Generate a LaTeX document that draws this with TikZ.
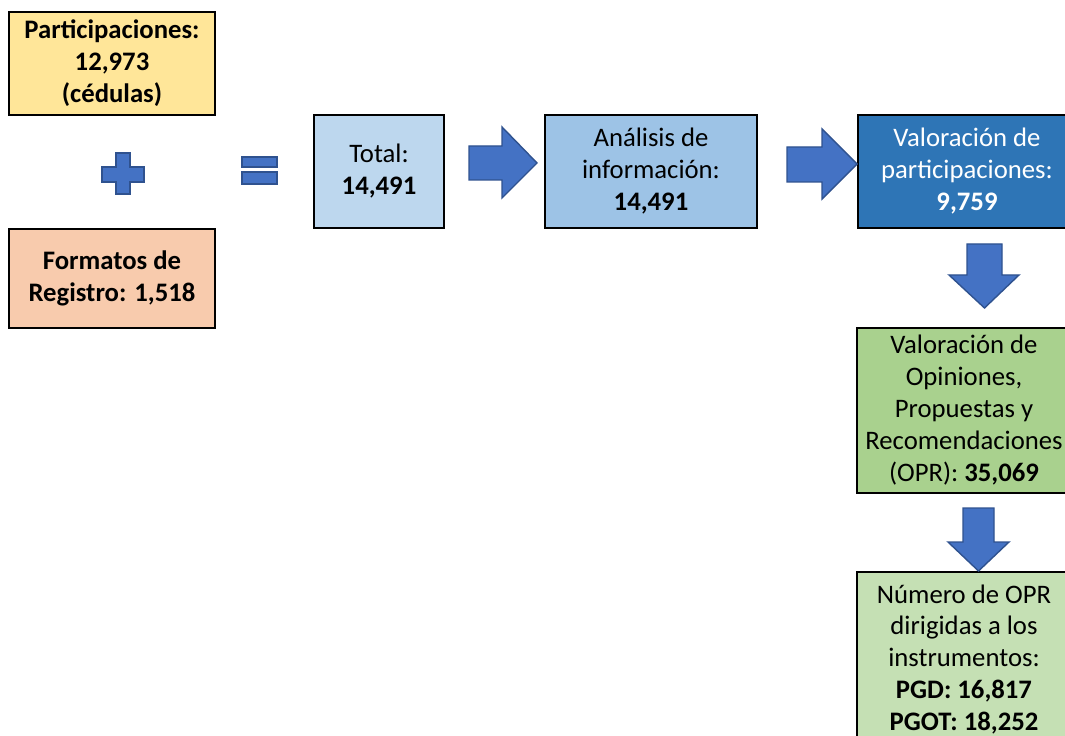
\documentclass[tikz,border=0pt]{standalone}
\usepackage{fontspec}
\setmainfont{Carlito}
\usepackage{tikz}
\usepackage{xcolor}

\definecolor{partyellow}{HTML}{FFE699}
\definecolor{formpeach}{HTML}{F8CBAD}
\definecolor{totalblue}{HTML}{BDD7EE}
\definecolor{analblue}{HTML}{9DC3E6}
\definecolor{valblue}{HTML}{2E75B6}
\definecolor{oprgreen}{HTML}{A9D18E}
\definecolor{numgreen}{HTML}{C5E0B4}
\definecolor{arrowfill}{HTML}{4472C4}
\definecolor{arrowedge}{HTML}{2F528F}

\tikzset{
  box/.style={draw=black, line width=1.2pt, align=center, inner sep=0pt,
    font=\fontsize{15.2}{18.2}\selectfont},
  blockarrow/.style={fill=arrowfill, draw=arrowedge, line width=0.8pt},
}

\begin{document}
\begin{tikzpicture}[x=0.02cm, y=-0.02cm]
    \useasboundingbox (0,0) rectangle (1065,736);

    %% sources
    \node[box, fill=partyellow, minimum width=4.12cm, minimum height=2.06cm] (part) at (112,63.5)
        {\textbf{Participaciones:}\\ \textbf{12,973}\\ \textbf{(cédulas)}};
    \node[box, fill=formpeach, minimum width=4.12cm, minimum height=1.98cm] (form) at (112,278.5)
        {\textbf{Formatos de}\\ \textbf{Registro: 1,518}};

    % plus
    \draw[blockarrow] (116,153) -- (130,153) -- (130,167) -- (144,167) -- (144,182) -- (130,182)
        -- (130,194) -- (116,194) -- (116,182) -- (102,182) -- (102,167) -- (116,167) -- cycle;

    % equals
    \draw[blockarrow] (242,157) rectangle (277,167);
    \draw[blockarrow] (242,172) rectangle (277,184);

    %% flow
    \node[box, fill=totalblue, minimum width=2.6cm, minimum height=2.26cm] (total) at (379,171.5)
        {Total:\\ \textbf{14,491}};
    \node[box, fill=analblue, minimum width=4.24cm, minimum height=2.26cm] (anal) at (651,171.5)
        {Análisis de\\ información:\\ \textbf{14,491}};
    \node[box, fill=valblue, text=white, minimum width=4.36cm, minimum height=2.26cm] (valp) at (967,171.5)
        {Valoración de\\ participaciones:\\ \textbf{9,759}};
    \node[box, fill=oprgreen, minimum width=4.28cm, minimum height=3.3cm] (opr) at (964,410.5)
        {Valoración de\\ Opiniones,\\ Propuestas y\\ Recomendaciones\\ (OPR): \textbf{35,069}};
    \node[box, fill=numgreen, minimum width=4.28cm, minimum height=3.5cm] (num) at (964,659.5)
        {Número de OPR\\ dirigidas a los\\ instrumentos:\\ \textbf{PGD: 16,817}\\ \textbf{PGOT: 18,252}};

    % arrows
    \draw[blockarrow] (469,146) -- (502,146) -- (502,127) -- (537,163) -- (502,198) -- (502,180) -- (469,180) -- cycle;
    \draw[blockarrow] (787,147) -- (822,147) -- (822,129) -- (857,164) -- (822,199) -- (822,182) -- (787,182) -- cycle;
    \draw[blockarrow] (967,244) -- (1002,244) -- (1002,275) -- (1019,275) -- (984.5,308) -- (949,275) -- (967,275) -- cycle;
    \draw[blockarrow] (963,508) -- (994,508) -- (994,542) -- (1009,542) -- (978.5,571) -- (948,542) -- (963,542) -- cycle;

\end{tikzpicture}
\end{document}
